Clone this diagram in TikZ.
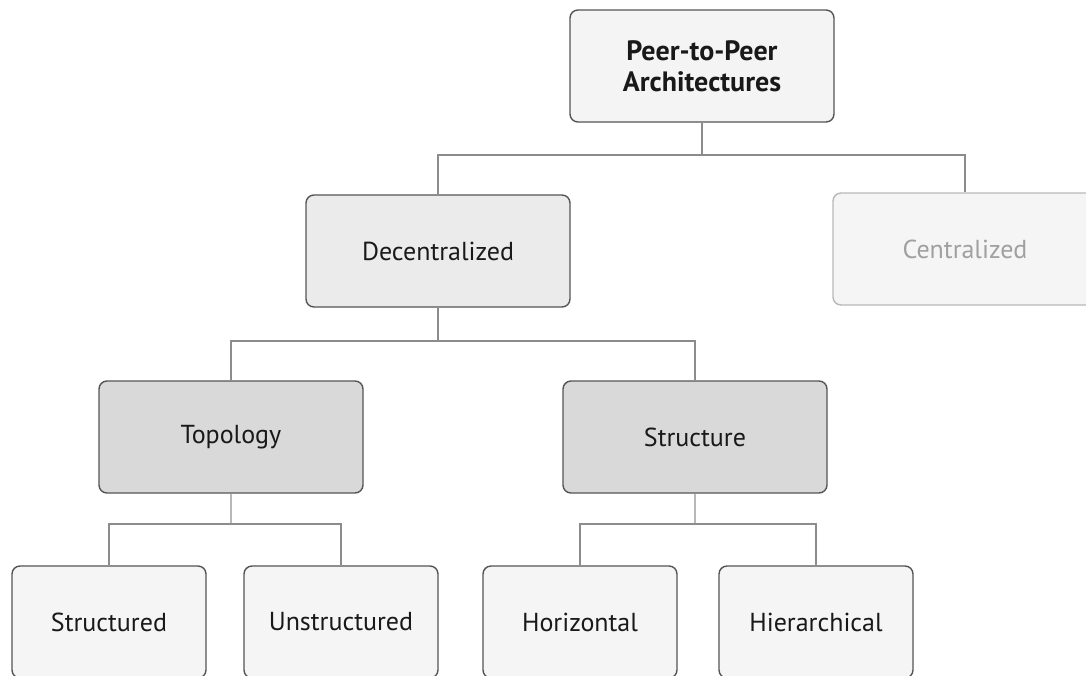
\documentclass[tikz,border=0pt]{standalone}
\usepackage{fontspec}
\setmainfont{PT Sans}
\usepackage{xcolor}
\usepackage{tikz}
\usetikzlibrary{positioning}

\definecolor{boxline}{HTML}{555555}
\definecolor{rootfill}{HTML}{F4F4F4}
\definecolor{midfill}{HTML}{EBEBEB}
\definecolor{lowfill}{HTML}{D9D9D9}
\definecolor{leaffill}{HTML}{F5F5F5}
\definecolor{fadeline}{HTML}{B8B8B8}
\definecolor{fadetext}{HTML}{A0A0A0}
\definecolor{linkgray}{HTML}{8C8C8C}

\begin{document}
\begin{tikzpicture}[x=1pt, y=-1pt,
    box/.style={draw=boxline, line width=1.4pt, rounded corners=8pt,
        minimum width=264pt, minimum height=112pt, inner sep=0pt,
        font=\fontsize{26}{31}\selectfont, text=black!90},
    leaf/.style={box, fill=leaffill, minimum width=194pt},
    link/.style={draw=linkgray, line width=1.3pt},
    faintlink/.style={draw=fadeline, line width=1.3pt}]

% Canvas
\useasboundingbox (0,0) rectangle (1086,675);
\clip (0,0) rectangle (1086,675);

% Top level
\node[box, fill=rootfill, align=center, font=\fontsize{28}{31}\selectfont\bfseries] (root) at (702,66) {Peer-to-Peer\\Architectures};

% Second level
\node[box, fill=midfill] (dec) at (438,251) {Decentralized};
\node[box, fill=leaffill, draw=fadeline, text=fadetext] (cen) at (965,249) {Centralized};

% Third level
\node[box, fill=lowfill] (topo) at (231,437) {Topology};
\node[box, fill=lowfill] (struc) at (695,437) {Structure};

% Leaves
\node[leaf] (structured) at (109,622) {Structured};
\node[leaf] (unstructured) at (341,622) {Unstructured};
\node[leaf] (horizontal) at (580,622) {Horizontal};
\node[leaf] (hierarchical) at (816,622) {Hierarchical};

% Junctions
\coordinate (j1) at (702,155);
\coordinate (j2) at (438,341);
\coordinate (j3) at (231,524);
\coordinate (j4) at (695,524);

% Connectors
\draw[link] (root.south) -- (j1) -| (dec.north);
\draw[link] (j1) -| (cen.north);
\draw[link] (dec.south) -- (j2) -| (topo.north);
\draw[link] (j2) -| (struc.north);
\draw[faintlink] (topo.south) -- (j3);
\draw[link] (j3) -| (structured.north);
\draw[link] (j3) -| (unstructured.north);
\draw[faintlink] (struc.south) -- (j4);
\draw[link] (j4) -| (horizontal.north);
\draw[link] (j4) -| (hierarchical.north);

\end{tikzpicture}
\end{document}
